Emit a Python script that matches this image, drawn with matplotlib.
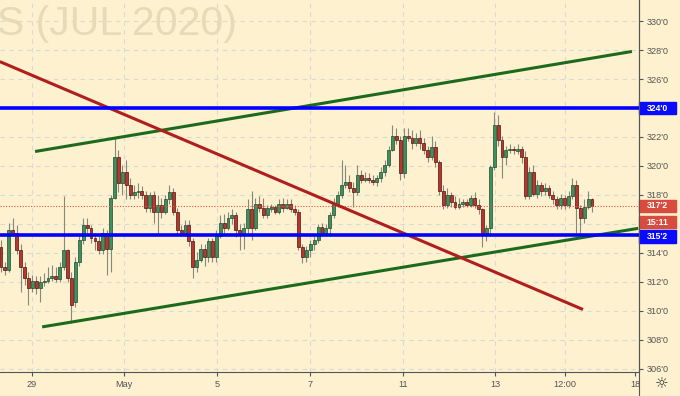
import numpy as np
import matplotlib
matplotlib.use('Agg')
import matplotlib.pyplot as plt
from matplotlib.patches import Rectangle
from matplotlib.transforms import blended_transform_factory
from matplotlib.lines import Line2D

# hourly candles, ZM (JUL 2020)
opens = [314.4, 313.0, 312.8, 315.6, 315.4, 314.2, 313.0, 312.3, 311.6, 312.1,
         311.6, 312.0, 312.1, 312.3, 312.4, 312.2, 313.0, 314.2, 312.3, 310.6,
         313.4, 314.9, 315.9, 315.7, 315.0, 314.8, 314.2, 315.4, 314.3, 317.8,
         320.6, 318.8, 319.6, 318.7, 318.0, 318.2, 318.3, 318.0, 317.1, 318.0,
         316.8, 317.3, 316.8, 317.7, 318.2, 316.8, 315.6, 315.4, 315.9, 314.8,
         313.0, 313.5, 314.3, 313.7, 314.8, 313.7, 315.2, 316.1, 315.7, 316.4,
         316.6, 315.6, 315.4, 315.7, 317.0, 315.7, 317.4, 317.1, 316.6, 317.0,
         317.2, 316.8, 317.4, 317.1, 317.4, 317.0, 316.8, 314.4, 313.7, 314.2,
         314.6, 314.9, 315.8, 315.4, 315.7, 316.6, 317.4, 318.0, 318.7, 318.9,
         318.5, 318.2, 319.4, 319.0, 319.2, 319.0, 318.9, 319.2, 319.6, 320.1,
         321.1, 322.1, 321.8, 319.5, 322.1, 321.9, 321.6, 321.9, 321.6, 321.1,
         320.6, 321.3, 320.3, 318.3, 317.3, 318.0, 317.5, 317.2, 317.4, 317.5,
         317.3, 317.8, 317.3, 317.0, 315.4, 315.7, 319.9, 322.8, 321.8, 320.6,
         321.1, 321.2, 321.0, 321.2, 320.6, 317.9, 319.6, 318.1, 318.7, 318.3,
         318.5, 318.0, 317.7, 317.3, 317.8, 317.3, 317.9, 318.7, 317.1, 316.4,
         317.2, 317.7]
closes = [313.0, 312.8, 315.6, 315.4, 314.2, 313.0, 312.3, 311.6, 312.1, 311.6,
          312.0, 312.1, 312.3, 312.4, 312.2, 313.0, 314.2, 312.3, 310.4, 313.4,
          314.9, 315.9, 315.7, 315.0, 314.8, 314.2, 315.4, 314.3, 317.8, 320.6,
          318.8, 319.6, 318.7, 318.0, 318.2, 318.3, 318.0, 317.1, 318.0, 316.8,
          317.3, 316.8, 317.7, 318.2, 316.8, 315.6, 315.4, 315.9, 314.8, 313.0,
          313.5, 314.3, 313.7, 314.8, 313.7, 315.2, 316.1, 315.7, 316.4, 316.6,
          315.6, 315.4, 315.7, 317.0, 315.7, 317.4, 317.1, 316.6, 317.1, 317.2,
          316.8, 317.4, 317.1, 317.4, 317.0, 316.8, 314.4, 313.7, 314.2, 314.6,
          314.9, 315.8, 315.4, 315.7, 316.6, 317.4, 318.0, 318.7, 318.9, 318.5,
          318.2, 319.4, 319.0, 319.2, 319.0, 318.9, 319.2, 319.6, 320.1, 321.1,
          322.1, 321.8, 319.5, 322.1, 321.9, 321.6, 321.9, 321.6, 321.1, 320.6,
          321.3, 320.3, 318.3, 317.3, 318.0, 317.5, 317.2, 317.4, 317.5, 317.3,
          317.8, 317.3, 317.0, 315.4, 315.7, 319.9, 322.8, 321.8, 320.6, 321.1,
          321.2, 321.1, 321.2, 320.6, 317.9, 319.6, 318.1, 318.7, 318.3, 318.5,
          318.0, 317.7, 317.3, 317.8, 317.3, 317.9, 318.7, 317.1, 316.4, 317.2,
          317.7, 317.25]
highs = [314.9, 313.4, 316.1, 316.4, 315.9, 314.6, 313.4, 312.7, 312.5, 312.4,
         312.4, 312.6, 313.0, 313.2, 313.0, 313.4, 317.9, 314.3, 312.7, 313.7,
         315.2, 316.4, 316.4, 315.9, 315.4, 315.2, 315.7, 315.6, 318.0, 322.0,
         321.1, 320.1, 320.4, 319.2, 318.7, 318.8, 318.6, 318.3, 318.2, 318.3,
         318.0, 317.8, 318.0, 318.7, 318.5, 317.1, 315.9, 316.3, 316.3, 315.0,
         314.1, 314.6, 314.6, 315.0, 315.0, 315.6, 316.6, 316.7, 316.8, 317.0,
         316.8, 316.0, 316.1, 317.7, 318.3, 317.8, 317.9, 317.8, 317.3, 317.4,
         317.3, 317.7, 317.8, 317.7, 317.7, 317.3, 317.0, 314.6, 314.5, 314.9,
         315.2, 316.0, 316.1, 316.0, 316.8, 317.8, 318.3, 320.4, 320.1, 319.4,
         318.9, 320.1, 319.7, 319.6, 319.5, 319.4, 319.4, 319.9, 320.4, 321.4,
         322.8, 322.6, 322.1, 322.6, 322.6, 322.5, 322.3, 322.5, 321.9, 321.4,
         322.1, 321.7, 320.4, 318.7, 318.5, 318.2, 317.9, 317.8, 317.7, 317.7,
         318.0, 318.2, 317.7, 317.1, 315.9, 320.1, 323.7, 323.5, 322.1, 321.4,
         321.5, 321.4, 321.5, 321.4, 321.0, 319.9, 320.1, 319.0, 318.9, 318.8,
         318.7, 318.3, 317.9, 318.1, 318.0, 318.3, 319.2, 319.0, 317.3, 317.7,
         318.3, 317.8]
lows = [312.7, 312.5, 312.7, 315.2, 313.9, 311.3, 311.8, 310.4, 311.3, 311.2,
        310.6, 311.7, 311.9, 312.1, 312.0, 312.0, 312.8, 312.0, 309.2, 310.3,
        313.1, 314.6, 315.4, 314.7, 314.2, 313.9, 313.9, 312.5, 312.7, 317.7,
        318.2, 318.0, 317.7, 317.7, 317.7, 317.8, 317.7, 316.8, 316.8, 316.1,
        315.4, 316.4, 316.7, 317.4, 316.6, 315.3, 315.2, 315.2, 314.5, 312.3,
        312.7, 313.4, 313.1, 313.4, 313.4, 313.4, 315.0, 315.4, 315.6, 316.0,
        315.1, 314.2, 314.3, 315.4, 314.9, 315.6, 316.8, 316.4, 316.4, 316.8,
        316.7, 316.7, 316.8, 317.0, 316.8, 316.6, 314.2, 313.3, 313.4, 313.7,
        314.2, 314.7, 315.2, 315.2, 315.2, 316.4, 317.2, 317.8, 318.5, 318.2,
        317.2, 318.0, 318.8, 318.9, 318.8, 318.7, 318.6, 318.9, 319.3, 319.9,
        321.0, 321.5, 319.0, 319.2, 321.7, 321.2, 321.4, 321.2, 320.8, 320.3,
        320.4, 319.9, 318.0, 317.0, 317.1, 317.2, 317.0, 317.0, 317.2, 317.2,
        317.2, 317.1, 316.7, 314.4, 314.8, 315.2, 319.7, 321.4, 319.2, 320.1,
        320.9, 320.8, 320.8, 320.2, 317.7, 317.7, 317.9, 317.8, 317.9, 318.0,
        317.8, 317.4, 317.0, 317.0, 317.0, 317.1, 317.7, 315.4, 315.4, 316.1,
        317.0, 316.8]

# trend lines (bar index, price)
green_upper_x = [8.7, 161.2]
green_upper_y = [321.0, 327.9]
green_lower_x = [10.5, 162.8]
green_lower_y = [308.9, 315.7]
red_line_x = [-0.3, 148.7]
red_line_y = [327.2, 310.1]
levels = [324.0, 315.25]
last_price = 317.25
countdown = '15:11'

tick_pos = [7.9, 31.4, 55.2, 78.9, 102.7, 126.2, 144.1, 162.0]
tick_labels = ['29', 'May', '5', '7', '11', '13', '12:00', '18']
price_ticks = list(range(306, 332, 2))
hidden_ticks = [316, 324]   # covered by the price boxes

bg = '#fdf1cf'
grid_c = '#d8dad6'

def frac_fmt(v):
    w = int(np.floor(v + 1e-9))
    e = int(round((v - w) * 8))
    return "%d'%d" % (w, e)

fig = plt.figure(figsize=(6.8, 3.96), dpi=100, facecolor=bg)
ax = fig.add_axes([0, 24 / 396, 639 / 680, 372 / 396])
ax.set_facecolor(bg)

x = np.arange(len(closes))
o = np.array(opens)
c = np.array(closes)
up = c >= o
body_lo = np.minimum(o, c)
body_h = np.maximum(np.abs(c - o), 0.06)

ax.vlines(x, lows, highs, color='#86887c', lw=0.8, zorder=2)
ax.bar(x[up], body_h[up], bottom=body_lo[up], width=0.74,
       color='#3f8f5f', edgecolor='#1f4a30', lw=0.5, zorder=3)
ax.bar(x[~up], body_h[~up], bottom=body_lo[~up], width=0.74,
       color='#b8362c', edgecolor='#4d1410', lw=0.5, zorder=3)

# lines
ax.plot(green_upper_x, green_upper_y, color='#1d6a1d', lw=2.2, zorder=5, solid_capstyle='butt')
ax.plot(green_lower_x, green_lower_y, color='#1d6a1d', lw=2.2, zorder=5, solid_capstyle='butt')
ax.plot(red_line_x, red_line_y, color='#b01e1e', lw=2.2, zorder=5, solid_capstyle='butt')
for lv in levels:
    ax.axhline(lv, color='#0000ff', lw=2.6, zorder=6)
ax.axhline(last_price, color='#e8574a', lw=0.8, ls=(0, (1, 1.5)), zorder=4)

ax.set_xlim(-0.26, 163.0)
ax.set_ylim(305.79, 331.45)

# grid
for t in tick_pos[:-1]:
    ax.axvline(t, color=grid_c, lw=0.8, ls=(0, (4, 4)), zorder=0)
for p in price_ticks:
    ax.axhline(p, color=grid_c, lw=0.8, ls=(0, (4, 4)), zorder=0)

# watermark
ax.text(-3 / 639, (372 - 35) / 372, 'S (JUL 2020)', transform=ax.transAxes,
        fontsize=29.5, family='Liberation Sans', color='#e7dbb6', va='baseline',
        ha='left', zorder=0, clip_on=True)

for s in ['top', 'left']:
    ax.spines[s].set_visible(False)
ax.spines['right'].set_color('#555555')
ax.spines['bottom'].set_color('#555555')
ax.spines['right'].set_linewidth(0.8)
ax.spines['bottom'].set_linewidth(0.8)

ax.yaxis.tick_right()
ax.set_yticks(price_ticks)
ax.set_yticklabels(['' if p in hidden_ticks else frac_fmt(p) for p in price_ticks])
ax.tick_params(axis='y', length=3, pad=2.5, labelsize=6.6, colors='#555555',
               labelfontfamily='Liberation Sans')
ax.set_xticks(tick_pos)
ax.set_xticklabels(tick_labels)
ax.tick_params(axis='x', length=3, pad=3, labelsize=6.6, colors='#555555',
               labelfontfamily='Liberation Sans')

# price labels on the right scale
tr = blended_transform_factory(ax.transAxes, ax.transData)
bw = 37 / 639
boxes = [(levels[0], frac_fmt(levels[0]), '#0a0aff'),
         (last_price, frac_fmt(last_price), '#d84c40'),
         (last_price - 1.12, countdown, '#d84c40'),
         (levels[1] - 0.12, frac_fmt(levels[1]), '#0a0aff')]
for yc, txt, col in boxes:
    ax.add_patch(Rectangle((1.0, yc - 0.43), bw, 0.86, transform=tr,
                           facecolor=col, edgecolor=col, clip_on=False, zorder=10))
    ax.text(1.0 + bw / 2, yc, txt, transform=tr, color='white', fontsize=6.2,
            fontweight='bold', family='Liberation Sans', ha='center', va='center',
            clip_on=False, zorder=11)

# axis line through the time scale and settings icon
fig.add_artist(Line2D([639 / 680, 639 / 680], [0, 1], color='#555555', lw=0.8))
fig.text(662 / 680, 1 - 384 / 396, '\u263c', fontsize=11, color='#333333',
         ha='center', va='center')

fig.savefig('out.png', dpi=100, facecolor=bg)
